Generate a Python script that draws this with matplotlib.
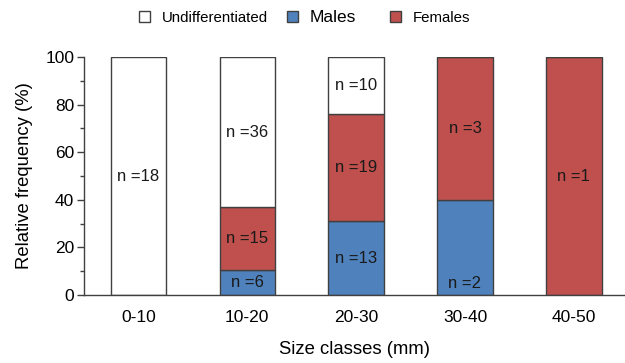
import matplotlib.pyplot as plt
from matplotlib.patches import Patch
from matplotlib.ticker import MultipleLocator

plt.rcParams['font.family'] = ['Liberation Sans', 'DejaVu Sans']

classes = ["0-10", "10-20", "20-30", "30-40", "40-50"]
males = [0, 6, 13, 2, 0]
females = [0, 15, 19, 3, 1]
undiff = [18, 36, 10, 0, 0]

blue = "#4F81BD"
red = "#C0504D"
edge = "#404040"

totals = [m + f + u for m, f, u in zip(males, females, undiff)]
pm = [100 * m / t for m, t in zip(males, totals)]
pf = [100 * f / t for f, t in zip(females, totals)]
pu = [100 * u / t for u, t in zip(undiff, totals)]

fig = plt.figure(figsize=(6.25, 3.63), dpi=100)
ax = fig.add_axes([0.1344, 0.187, 0.8656, 0.656])
x = range(len(classes))
w = 0.51
ax.bar(x, pm, w, color=blue, edgecolor=edge, linewidth=1)
ax.bar(x, pf, w, bottom=pm, color=red, edgecolor=edge, linewidth=1)
bot = [a + b for a, b in zip(pm, pf)]
ax.bar(x, pu, w, bottom=bot, color="white", edgecolor=edge, linewidth=1)

# n labels in the middle of each segment
for i in x:
    segs = [(males[i], 0, pm[i]), (females[i], pm[i], pf[i]), (undiff[i], bot[i], pu[i])]
    for n, b, h in segs:
        if n == 0:
            continue
        y = b + h / 2
        if classes[i] == "30-40" and n == males[i]:
            y = 5
        ax.text(i, y, "n =%d" % n, ha="center", va="center", fontsize=12, color="#1a1a1a")

ax.set_xlim(-0.5, 4.47)
ax.set_ylim(0, 100)
ax.yaxis.set_major_locator(MultipleLocator(20))
ax.yaxis.set_minor_locator(MultipleLocator(10))
ax.set_xticks(list(x))
ax.set_xticklabels(classes)
ax.tick_params(axis="x", length=0, pad=11, labelsize=12.5)
ax.tick_params(axis="y", which="major", length=5, width=1, color=edge, labelsize=12.5, pad=2)
ax.tick_params(axis="y", which="minor", length=3, width=1, color=edge)
for s in ["top", "right"]:
    ax.spines[s].set_visible(False)
for s in ["left", "bottom"]:
    ax.spines[s].set_color(edge)
    ax.spines[s].set_linewidth(1)
ax.set_ylabel("Relative frequency (%)", fontsize=13.3, labelpad=9)
ax.set_xlabel("Size classes (mm)", fontsize=13.3, labelpad=11)

# legend entries placed one by one, like the original
entries = [("white", "Undifferentiated", 10.8, 139),
           (blue, "Males", 12.5, 287),
           (red, "Females", 10.8, 390)]
for col, lab, fs, px in entries:
    h = Patch(facecolor=col, edgecolor=edge, label=lab)
    fig.legend(handles=[h], loc="center left", bbox_to_anchor=(px / 625, 1 - 18 / 363),
               frameon=False, fontsize=fs, handlelength=8 / fs, handleheight=8 / fs,
               handletextpad=8.6 / fs, borderpad=0, borderaxespad=0)

fig.savefig("out.png", dpi=100)
